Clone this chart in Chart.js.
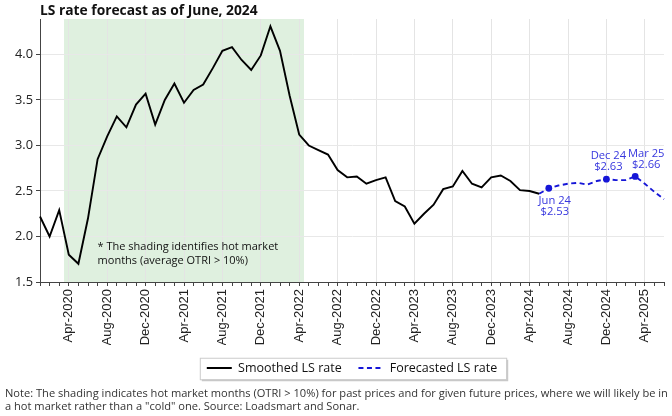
<!DOCTYPE html>
<html>
<head>
<meta charset="utf-8">
<script src="https://cdn.jsdelivr.net/npm/chart.js@4.4.0/dist/chart.umd.min.js"></script>
<style>
  body { margin: 0; background: #fff; width: 672px; height: 416px; overflow: hidden; position: relative; font-family: 'Open Sans', sans-serif; }
  #title { position: absolute; left: 40px; top: 0px; font-weight: bold; font-size: 13.8px; color: #111; white-space: nowrap; }
  #wrap { position: absolute; left: 0; top: 0; width: 672px; height: 386px; }
  #note { position: absolute; left: 5px; top: 386px; font-size: 11.1px; line-height: 13px; color: #333; white-space: nowrap; }
</style>
</head>
<body>
<div id="wrap"><canvas id="lsChart"></canvas></div>
<div id="title">LS rate forecast as of June, 2024</div>
<div id="note">Note: The shading indicates hot market months (OTRI &gt; 10%) for past prices and for given future prices, where we will likely be in<br>a hot market rather than a "cold" one. Source: Loadsmart and Sonar.</div>
<script>
// monthly categories Jan-2020 .. Jun-2025
const monthNames = ['Jan', 'Feb', 'Mar', 'Apr', 'May', 'Jun', 'Jul', 'Aug', 'Sep', 'Oct', 'Nov', 'Dec'];
const months = [];
for (let y = 2020; y <= 2025; y++) {
  monthNames.forEach((m, i) => {
    if (y === 2025 && i > 5) return;
    months.push(m + '-' + y);
  });
}

const tickLabels = ['Apr-2020', 'Aug-2020', 'Dec-2020', 'Apr-2021', 'Aug-2021', 'Dec-2021', 'Apr-2022', 'Aug-2022',
  'Dec-2022', 'Apr-2023', 'Aug-2023', 'Dec-2023', 'Apr-2024', 'Aug-2024', 'Dec-2024', 'Apr-2025'];
const yTicks = [1.5, 2.0, 2.5, 3.0, 3.5, 4.0];

// smoothed LS rate, Jan-2020 .. May-2024
const smoothed = [2.22, 2.00, 2.29, 1.80, 1.70, 2.20, 2.85, 3.10, 3.32, 3.20, 3.45, 3.57,
  3.23, 3.50, 3.68, 3.47, 3.61, 3.67, 3.85, 4.04, 4.08, 3.94, 3.83, 3.99,
  4.31, 4.04, 3.55, 3.12, 3.00, 2.95, 2.90, 2.73, 2.65, 2.66, 2.58, 2.62,
  2.65, 2.39, 2.33, 2.14, 2.25, 2.35, 2.52, 2.55, 2.72, 2.58, 2.54, 2.65,
  2.67, 2.61, 2.51, 2.50, 2.47];

// forecast, May-2024 .. Jun-2025
const forecastStart = 'May-2024';
const forecastValues = [2.47, 2.53, 2.56, 2.58, 2.59, 2.57, 2.61, 2.63, 2.62, 2.62, 2.66, 2.58, 2.49, 2.41];

// labelled forecast points
const markedMonths = ['Jun-2024', 'Dec-2024', 'Mar-2025'];
const markedBelow = [true, false, false];
const markedShift = [6, 2, 11];

// hot market shading (first and last hot month)
const hotMonths = ['Apr-2020', 'Apr-2022'];

const forecast = new Array(months.indexOf(forecastStart)).fill(null).concat(forecastValues);

const blue = 'rgb(22, 22, 215)';
const labelBlue = 'rgb(55, 55, 222)';

const hotShade = {
  id: 'hotShade',
  beforeDraw(chart) {
    const { ctx, chartArea, scales: { x } } = chart;
    const x0 = x.getPixelForValue(months.indexOf(hotMonths[0]) - 0.5);
    const x1 = x.getPixelForValue(months.indexOf(hotMonths[1]) + 0.5);
    ctx.save();
    ctx.fillStyle = 'rgba(150, 205, 150, 0.3)';
    ctx.fillRect(x0, chartArea.top, x1 - x0, chartArea.bottom - chartArea.top);
    ctx.restore();
  }
};

// frame with shadow behind the legend
const legendFrame = {
  id: 'legendFrame',
  beforeDraw(chart) {
    const boxes = chart.legend.legendHitBoxes;
    if (!boxes || !boxes.length) return;
    const { ctx } = chart;
    const left = Math.min(...boxes.map(b => b.left)) - 7;
    const right = Math.max(...boxes.map(b => b.left + b.width)) + 9;
    const top = Math.min(...boxes.map(b => b.top)) - 4;
    const bottom = Math.max(...boxes.map(b => b.top + b.height)) + 5;
    ctx.save();
    ctx.fillStyle = 'rgba(0,0,0,0.22)';
    ctx.fillRect(left + 2, top + 2, right - left, bottom - top);
    ctx.fillStyle = '#fff';
    ctx.fillRect(left, top, right - left, bottom - top);
    ctx.strokeStyle = '#cccccc';
    ctx.lineWidth = 1;
    ctx.strokeRect(left + 0.5, top + 0.5, right - left, bottom - top);
    ctx.restore();
  }
};

const annotations = {
  id: 'annotations',
  afterDatasetsDraw(chart) {
    const { ctx, scales: { x, y } } = chart;
    ctx.save();
    // shading note
    ctx.font = '11px "Open Sans"';
    ctx.fillStyle = '#111';
    ctx.textAlign = 'left';
    ctx.textBaseline = 'middle';
    const nx = x.getPixelForValue(months.indexOf('Jul-2020'));
    const ny = y.getPixelForValue(2.0);
    ctx.fillText('* The shading identifies hot market', nx, ny + 10);
    ctx.fillText('months (average OTRI > 10%)', nx, ny + 24);

    // forecast point labels
    const meta = chart.getDatasetMeta(1);
    ctx.font = '11.2px "Open Sans"';
    ctx.fillStyle = labelBlue;
    ctx.textAlign = 'center';
    markedMonths.forEach((m, k) => {
      const i = months.indexOf(m);
      const pt = meta.data[i];
      const [mon, yr] = m.split('-');
      const l1 = mon + ' ' + yr.slice(2);
      const l2 = '$' + forecast[i].toFixed(2);
      const tx = pt.x + markedShift[k];
      if (markedBelow[k]) {
        ctx.fillText(l1, tx, pt.y + 13);
        ctx.fillText(l2, tx, pt.y + 24);
      } else {
        ctx.fillText(l1, tx, pt.y - 23);
        ctx.fillText(l2, tx, pt.y - 12);
      }
    });
    ctx.restore();
  }
};

new Chart(document.getElementById('lsChart'), {
  type: 'line',
  data: {
    labels: months,
    datasets: [{
      label: 'Smoothed LS rate',
      data: smoothed,
      borderColor: '#000',
      backgroundColor: '#000',
      borderWidth: 1.9,
      pointRadius: 0,
      tension: 0
    }, {
      label: 'Forecasted LS rate',
      data: forecast,
      borderColor: blue,
      backgroundColor: blue,
      borderWidth: 1.9,
      borderDash: [5, 3.5],
      pointRadius: ctx => markedMonths.includes(months[ctx.dataIndex]) ? 3.4 : 0,
      pointBorderWidth: 0,
      pointBackgroundColor: blue,
      tension: 0
    }]
  },
  options: {
    responsive: true,
    maintainAspectRatio: false,
    animation: false,
    events: [],
    layout: { padding: { top: 19, right: 0, left: 0, bottom: 1.75 } },
    plugins: {
      title: { display: false },
      tooltip: { enabled: false },
      legend: {
        display: true,
        position: 'bottom',
        fullSize: false,
        labels: {
          usePointStyle: true,
          pointStyle: 'line',
          pointStyleWidth: 25,
          padding: 16.75,
          color: '#111',
          font: { family: 'Open Sans', size: 12.5 },
          generateLabels: chart => Chart.defaults.plugins.legend.labels.generateLabels(chart).map((item, i) => {
            const ds = chart.data.datasets[i];
            return Object.assign(item, {
              lineWidth: ds.borderWidth,
              lineDash: ds.borderDash || [],
              strokeStyle: ds.borderColor
            });
          })
        }
      }
    },
    scales: {
      x: {
        afterFit: s => { s.height = 63; s.paddingLeft = 0; s.paddingRight = 8; },
        border: { display: true, color: '#444', width: 1 },
        grid: {
          color: ctx => tickLabels.includes(months[ctx.index]) ? '#e4e4e4' : 'rgba(0,0,0,0)',
          tickColor: '#444',
          tickLength: 4,
          drawTicks: true
        },
        ticks: {
          autoSkip: false,
          maxRotation: 90,
          minRotation: 90,
          padding: 3,
          color: '#222',
          font: { family: 'Liberation Sans', size: 13 },
          callback: (v, i) => tickLabels.includes(months[i]) ? months[i] : ''
        }
      },
      y: {
        min: 1.5,
        max: 4.39,
        afterFit: s => { s.width = 40; },
        border: { display: true, color: '#444', width: 1 },
        grid: { color: '#e8e8e8', tickColor: '#444', tickLength: 4 },
        afterBuildTicks: s => { s.ticks = yTicks.map(v => ({ value: v })); },
        ticks: {
          padding: 3,
          color: '#222',
          font: { family: 'Open Sans', size: 12.8 },
          callback: v => v.toFixed(1)
        }
      }
    }
  },
  plugins: [hotShade, legendFrame, annotations]
});
</script>
</body>
</html>
